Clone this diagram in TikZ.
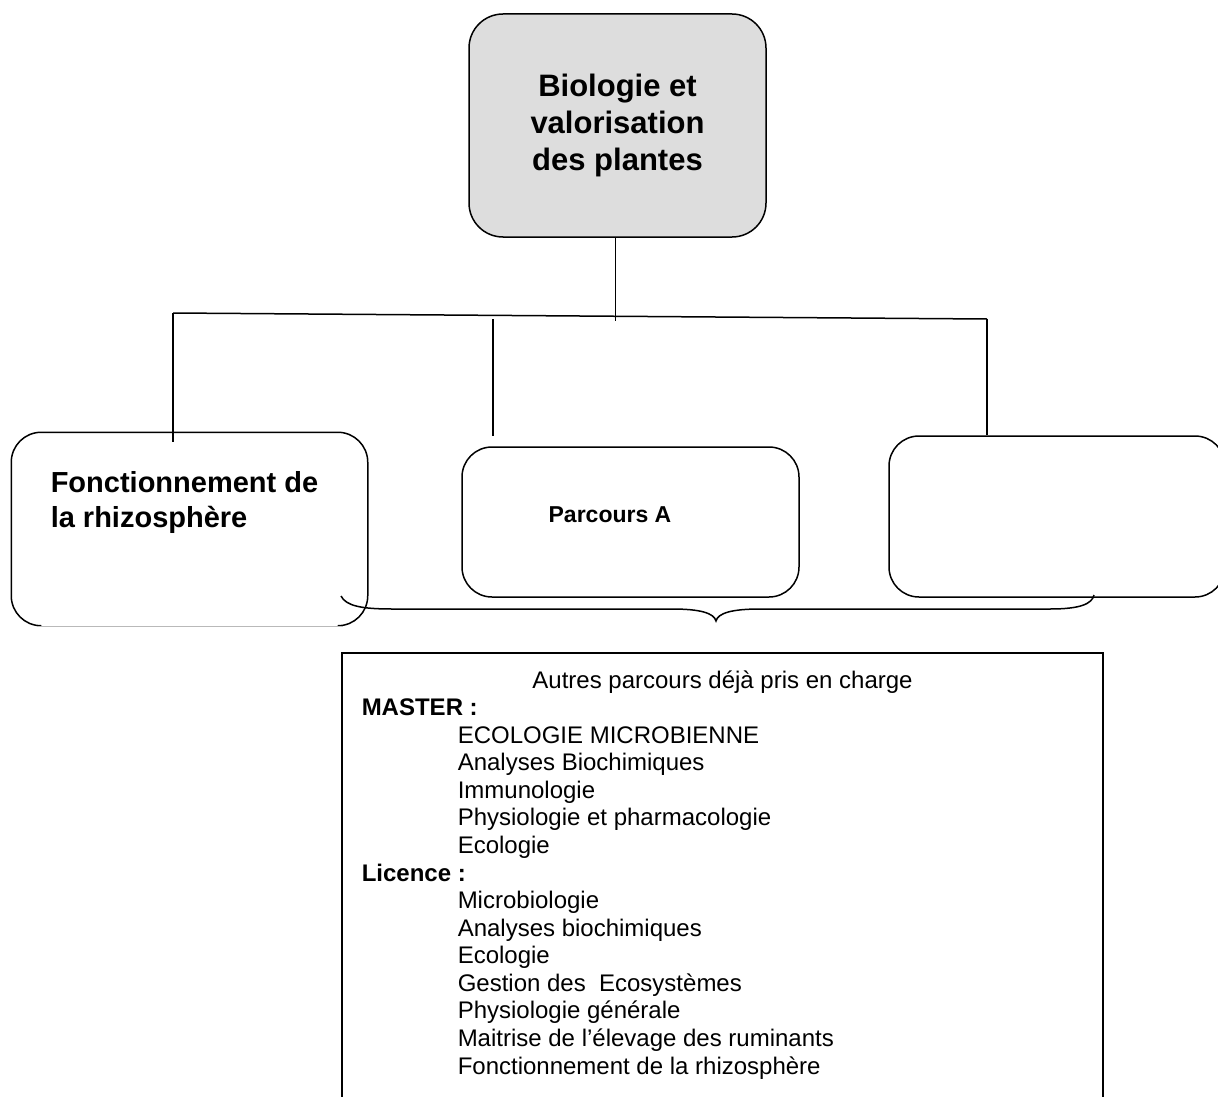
\documentclass[tikz,border=0pt]{standalone}
\usepackage{fontspec}
\setmainfont{Liberation Sans}
\definecolor{boxgray}{HTML}{DDDDDD}
\begin{document}
\begin{tikzpicture}[x=1pt,y=-1pt,line width=1.5pt,
  box/.style={draw,rounded corners=30pt,inner sep=0pt},
  item/.style={anchor=base west,inner sep=0pt,font=\fontsize{24}{28}\selectfont},
  conn/.style={line width=1.5pt}]
\path[use as bounding box] (0,0) rectangle (1218,1097);
\clip (0,0) rectangle (1218,1097);
% top box
\node[box,rounded corners=34pt,fill=boxgray,minimum width=297pt,minimum height=223pt,align=center,
      font=\bfseries\fontsize{31}{37}\selectfont] (top) at (617.5,125.5) {Biologie et\\valorisation\\des plantes};
% left box (bottom edge open)
\node[inner sep=0pt,minimum width=355pt,minimum height=192pt] (left) at (189.5,529) {};
\draw[rounded corners=30pt] ([xshift=30pt]left.south west) -- (left.south west) -- (left.north west)
  -- (left.north east) -- (left.south east) -- ([xshift=-30pt]left.south east);
\draw[gray!55,line width=0.8pt] ([xshift=27pt,yshift=-1pt]left.south west) -- ([xshift=-25pt,yshift=-1pt]left.south east);
\node[anchor=base west,inner sep=0pt,font=\bfseries\fontsize{29}{35}\selectfont] (lt1) at (50,492) {Fonctionnement de};
\node[anchor=base west,inner sep=0pt,font=\bfseries\fontsize{29}{35}\selectfont] (lt2) at (50,527) {la rhizosphère};
% middle box
\node[box,minimum width=337pt,minimum height=150pt] (mid) at (630.5,522) {};
\node[inner sep=0pt,font=\bfseries\fontsize{23}{27}\selectfont] (pa) at (610,515) {Parcours A};
% right box
\node[box,minimum width=336pt,minimum height=161pt] (right) at (1057,516.5) {};
% connectors
\coordinate (hl) at (173,313);
\coordinate (hr) at (987,319);
\coordinate (mtop) at (493,319);
\draw[conn] ([xshift=-2pt]top.south) -- ++(0,83);
\draw[conn] (hl) -- (hr);
\draw[conn] (hl) -- ([yshift=-10pt]left.north -| hl);
\draw[conn] (mtop) -- ([yshift=10pt]mid.north -| mtop);
\draw[conn] (hr) -- (right.north -| hr);
% brace
\coordinate (bl) at (341,596);
\coordinate (bt) at (716,621);
\coordinate (br) at (1094,595);
\draw[conn] (bl) .. controls (346,606) and (362,609) .. (392,609) -- (672,609)
  .. controls (700,609) and (714,613) .. (bt)
  .. controls (718,613) and (732,609) .. (760,609) -- (1050,609)
  .. controls (1080,609) and (1092,604) .. (br);
% bottom box
\node[draw,inner sep=0pt,minimum width=761pt,minimum height=460pt] (list) at (722.5,883) {};
\node[anchor=base,inner sep=0pt,font=\fontsize{24}{28}\selectfont] (title) at (722.5,688) {Autres parcours déjà pris en charge};
\node[item,font=\bfseries\fontsize{24}{28}\selectfont] (master) at (361,715.6) {MASTER :};
\foreach \t [count=\i from 0] in {{ECOLOGIE MICROBIENNE},{Analyses Biochimiques},{Immunologie},{Physiologie et pharmacologie},{Ecologie}}
  \node[item] (m\i) at (457,{743.1+27.57*\i}) {\t};
\node[item,font=\bfseries\fontsize{24}{28}\selectfont] (licence) at (361,881) {Licence :};
\foreach \t [count=\i from 0] in {{Microbiologie},{Analyses biochimiques},{Ecologie},{Gestion des~ Ecosystèmes},{Physiologie générale},{Maitrise de l’élevage des ruminants},{Fonctionnement de la rhizosphère}}
  \node[item] (l\i) at (457,{908.6+27.57*\i}) {\t};
\end{tikzpicture}
\end{document}
